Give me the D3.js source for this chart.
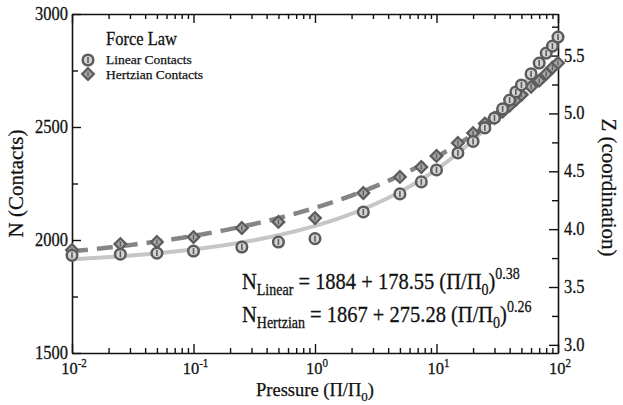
<!DOCTYPE html>
<html>
<head>
<meta charset="utf-8">
<script src="https://cdn.jsdelivr.net/npm/d3@7"></script>
<style>
  html, body { margin: 0; padding: 0; background: #fff; }
  svg text { font-family: "Liberation Serif", "Times New Roman", serif; fill: #111; stroke: #111; stroke-width: 0.25; }
</style>
</head>
<body>
<svg id="chart" width="623" height="405"></svg>
<script>
// Pressure values (Π/Π0) at which the packings were sampled
const pressure = [0.01, 0.025, 0.05, 0.1, 0.25, 0.5, 1, 2.5, 5, 7.5, 10, 15, 20, 25, 30, 35, 40, 45, 50, 60, 70, 80, 90, 100];
// Number of contacts, linear force law
const linearN = [1932, 1937, 1942, 1951, 1969, 1991, 2006, 2124, 2204, 2257, 2310, 2385, 2436, 2496, 2540, 2580, 2619, 2655, 2686, 2735, 2783, 2827, 2858, 2898];
// Number of contacts, Hertzian force law
const hertzN = [1956, 1982, 1991, 2013, 2053, 2080, 2097, 2208, 2279, 2323, 2372, 2429, 2473, 2515, 2540, 2568, 2595, 2620, 2642, 2678, 2705, 2735, 2762, 2783];
// Power-law fits N = a + b (Π/Π0)^c
const linearFit = [1884, 178.55, 0.38];
const hertzFit = [1867, 275.28, 0.26];
// Axis ticks
const xMajor = [0.01, 0.1, 1, 10, 100];
const nTicks = [1500, 2000, 2500, 3000];
const zTicks = [3.0, 3.5, 4.0, 4.5, 5.0, 5.5];
const particles = 1024; // Z = 2N / particles

const svg = d3.select("#chart");
const L = 72, R = 558, T = 14, B = 353;

const x = d3.scaleLog().domain([0.01, 100]).range([L, R]);
const yN = d3.scaleLinear().domain([1500, 3000]).range([B, T]);
const yZ = d3.scaleLinear().domain([2 * 1500 / particles, 2 * 3000 / particles]).range([B, T]);

// text anchored at (tx, ty) baseline; stretch > 1 gives tall letterforms
function label(tx, ty, size, anchor, stretch) {
  return svg.append("g").attr("transform", `translate(${tx},${ty}) scale(1,${stretch || 1.12})`)
    .append("text").attr("x", 0).attr("y", 0).attr("font-size", size)
    .attr("text-anchor", anchor || "start");
}

// minor ticks for the log axis
const xMinor = [];
for (let e = -2; e < 2; e++) for (let m = 2; m <= 9; m++) xMinor.push(m * Math.pow(10, e));

function styleAxis(g) {
  g.select(".domain").attr("stroke", "#111").attr("stroke-width", 1.6);
  g.selectAll(".tick line").attr("stroke", "#111").attr("stroke-width", 1.4);
  g.selectAll(".tick text").remove();
}

// bottom axis: major & minor ticks pointing inward
const axBottom = svg.append("g").attr("transform", `translate(0,${B})`);
axBottom.call(d3.axisBottom(x).tickValues(xMajor).tickSizeInner(-9).tickSizeOuter(0));
axBottom.append("g").call(d3.axisBottom(x).tickValues(xMinor).tickSizeInner(-5).tickSizeOuter(0))
  .select(".domain").remove();
styleAxis(axBottom);

const axTop = svg.append("g").attr("transform", `translate(0,${T})`);
axTop.call(d3.axisTop(x).tickValues(xMajor).tickSizeInner(-9).tickSizeOuter(0));
axTop.append("g").call(d3.axisTop(x).tickValues(xMinor).tickSizeInner(-5).tickSizeOuter(0))
  .select(".domain").remove();
styleAxis(axTop);

// x tick labels as powers of ten
xMajor.forEach(v => {
  const e = Math.round(Math.log10(v));
  const t = label(x(v) + 2, 374, 16.5, "middle", 1.05);
  t.append("tspan").text("10");
  t.append("tspan").attr("dy", -7).attr("font-size", 11).text(e < 0 ? "-" + Math.abs(e) : String(e));
});

// left axis (contacts)
const axLeft = svg.append("g").attr("transform", `translate(${L},0)`);
axLeft.call(d3.axisLeft(yN).tickValues(nTicks).tickSizeInner(-9).tickSizeOuter(0));
axLeft.append("g").call(d3.axisLeft(yN).tickValues([1750, 2250, 2750]).tickSizeInner(-6).tickSizeOuter(0))
  .select(".domain").remove();
styleAxis(axLeft);
nTicks.forEach(v => label(L - 4, yN(v) + 6, 16.5, "end").text(d3.format("d")(v)));

// right axis (coordination)
const axRight = svg.append("g").attr("transform", `translate(${R},0)`);
axRight.call(d3.axisRight(yZ).tickValues(zTicks).tickSizeInner(-9).tickSizeOuter(0));
axRight.append("g").call(d3.axisRight(yZ).tickValues([3.25, 3.75, 4.25, 4.75, 5.25, 5.75]).tickSizeInner(-6).tickSizeOuter(0))
  .select(".domain").remove();
styleAxis(axRight);
zTicks.forEach(v => label(R + 6, yZ(v) + 6, 16.5, "start").text(d3.format(".1f")(v)));

// axis titles
svg.append("text").attr("transform", `translate(23,${(T + B) / 2}) rotate(-90)`)
  .attr("text-anchor", "middle").attr("font-size", 21).text("N (Contacts)");
svg.append("text").attr("transform", `translate(602,${(T + B) / 2 + 4}) rotate(90)`)
  .attr("text-anchor", "middle").attr("font-size", 21).text("Z (coordination)");
const xt = label((L + R) / 2, 396, 18.5, "middle", 1.0);
xt.append("tspan").text("Pressure (Π/Π");
xt.append("tspan").attr("dy", 5).attr("font-size", 13).text("0");
xt.append("tspan").attr("dy", -5).text(")");

// fitted curves
const fitPts = d3.range(0, 401).map(i => Math.pow(10, -2 + i / 100));
const fitLine = p => d3.line().x(d => x(d)).y(d => yN(p[0] + p[1] * Math.pow(d, p[2])));
svg.append("path").datum(fitPts).attr("d", fitLine(linearFit))
  .attr("fill", "none").attr("stroke", "#c6c6c6").attr("stroke-width", 4);
svg.append("path").datum(fitPts).attr("d", fitLine(hertzFit))
  .attr("fill", "none").attr("stroke", "#858585").attr("stroke-width", 4.5)
  .attr("stroke-dasharray", "16,9");

// markers
const markColor = "#5c5c5c";
function circleMark(g, cx, cy) {
  g.append("circle").attr("cx", cx).attr("cy", cy).attr("r", 5.3)
    .attr("fill", "#d4d4d4").attr("stroke", markColor).attr("stroke-width", 2.5);
  g.append("line").attr("x1", cx).attr("x2", cx).attr("y1", cy - 3).attr("y2", cy + 3)
    .attr("stroke", markColor).attr("stroke-width", 1.6);
}
function diamondMark(g, cx, cy) {
  const s = 5.8;
  g.append("path").attr("d", `M${cx},${cy - s}L${cx + s},${cy}L${cx},${cy + s}L${cx - s},${cy}Z`)
    .attr("fill", "#a8a8a8").attr("stroke", markColor).attr("stroke-width", 2.3);
  g.append("line").attr("x1", cx).attr("x2", cx).attr("y1", cy - 2.5).attr("y2", cy + 2.5)
    .attr("stroke", markColor).attr("stroke-width", 1.4);
}
const marks = svg.append("g");
pressure.forEach((p, i) => diamondMark(marks, x(p), yN(hertzN[i])));
pressure.forEach((p, i) => circleMark(marks, x(p), yN(linearN[i])));

// legend
label(106, 45, 16.5).text("Force Law");
circleMark(svg, 88, 60);
diamondMark(svg, 88, 74);
label(106, 64, 13.5, "start", 1.0).text("Linear Contacts");
label(106, 78.5, 13.5, "start", 1.0).text("Hertzian Contacts");

// fit equations
function equation(y, sub, fit) {
  const t = label(242, y, 20.5, "start", 1.15);
  t.append("tspan").text("N");
  t.append("tspan").attr("dy", 5).attr("font-size", 14).text(sub);
  t.append("tspan").attr("dy", -5).text(` = ${fit[0]} + ${fit[1].toFixed(2)} (Π/Π`);
  t.append("tspan").attr("dy", 5).attr("font-size", 14).text("0");
  t.append("tspan").attr("dy", -5).text(")");
  t.append("tspan").attr("dy", -9).attr("font-size", 14).text(fit[2].toFixed(2));
}
equation(289, "Linear", linearFit);
equation(322, "Hertzian", hertzFit);
</script>
</body>
</html>
